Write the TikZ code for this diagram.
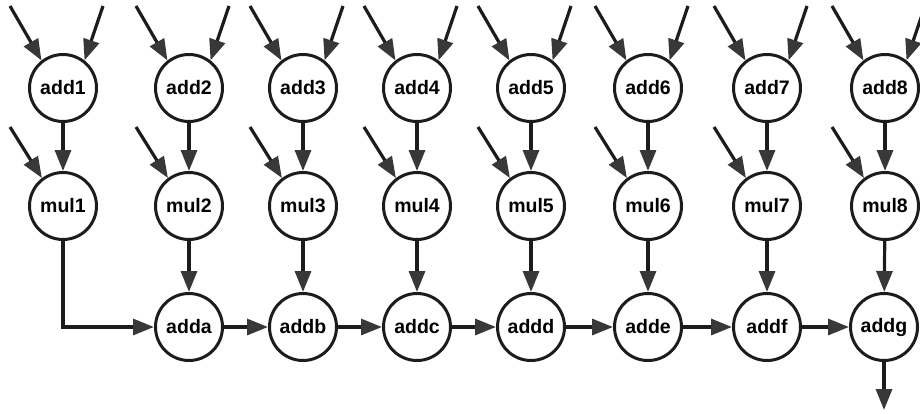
\documentclass[tikz,border=0pt]{standalone}
\usepackage{fontspec}
\setmainfont{Liberation Sans}
\usetikzlibrary{arrows.meta}
\definecolor{ink}{HTML}{1C1C1C}
\definecolor{head}{HTML}{383838}
\begin{document}
\begin{tikzpicture}[x=1pt,y=-1pt,
  op/.style={circle,draw=ink,line width=3pt,fill=white,minimum size=67pt,inner sep=0pt,
    font=\bfseries\fontsize{19.5}{19.5}\selectfont},
  flow/.style={draw=ink,line width=3.2pt,
    -{Triangle[length=21pt,width=16pt,color=head,fill=head]}},
]
\useasboundingbox (0,0) rectangle (920,413);

% three rows of operators, one column per stage
\foreach \i/\x in {1/63,2/189,3/303,4/417,5/531,6/648,7/767,8/885}{
  \node[op] (add\i) at (\x,88) {add\i};
  \node[op] (mul\i) at (\x,206) {mul\i};
  \coordinate (inL\i) at ({\x-53},6);
  \coordinate (inR\i) at ({\x+40},6);
  \coordinate (inM\i) at ({\x-53},127);
}
\node[op] (adda) at (189,327) {adda};
\node[op] (addb) at (303,327) {addb};
\node[op] (addc) at (417,327) {addc};
\node[op] (addd) at (531,327) {addd};
\node[op] (adde) at (648,327) {adde};
\node[op] (addf) at (767,327) {addf};
\node[op] (addg) at (884,327) {addg};
\coordinate (out) at (884,410);

% operand inputs and the add -> mul edges
\foreach \i in {1,...,8}{
  \draw[flow] (inL\i) -- (add\i.128);
  \draw[flow] (inR\i) -- (add\i.52);
  \draw[flow] (inM\i) -- (mul\i.127);
  \draw[flow] (add\i) -- (mul\i);
}

% products into the accumulation chain
\draw[flow] (mul1.south) |- (adda.west);
\draw[flow] (mul2) -- (adda);
\draw[flow] (mul3) -- (addb);
\draw[flow] (mul4) -- (addc);
\draw[flow] (mul5) -- (addd);
\draw[flow] (mul6) -- (adde);
\draw[flow] (mul7) -- (addf);
\draw[flow] (mul8) -- (addg);

% accumulation chain
\draw[flow] (adda) -- (addb);
\draw[flow] (addb) -- (addc);
\draw[flow] (addc) -- (addd);
\draw[flow] (addd) -- (adde);
\draw[flow] (adde) -- (addf);
\draw[flow] (addf) -- (addg);
\draw[flow] (addg) -- (out);
\end{tikzpicture}
\end{document}
